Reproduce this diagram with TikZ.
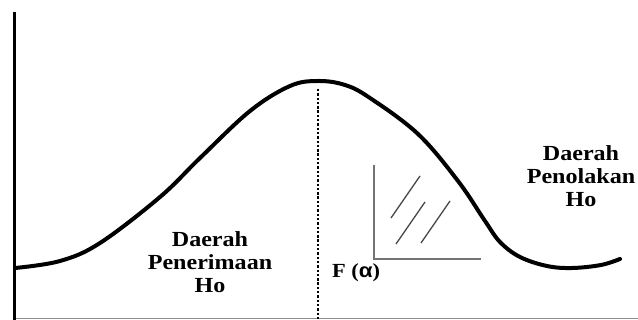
\documentclass[tikz,border=0pt]{standalone}
\usepackage{fontspec}
\newfontfamily\lblfont[FakeStretch=1.12]{Liberation Serif Bold}
\newfontfamily\symfont[FakeStretch=1.12]{Liberation Sans Bold}
\begin{document}
\begin{tikzpicture}[x=1pt,y=-1pt,
  curve/.style={line width=4pt,line cap=round,line join=round},
  axisline/.style={line width=3.5pt},
  guide/.style={line width=2.6pt,dash pattern=on 2.4pt off 1.9pt},
  bracket/.style={draw=black!55,line width=1.4pt},
  hatch/.style={draw=black!72,line width=1.3pt},
  region/.style={align=center,inner sep=0pt,font=\lblfont\fontsize{21.5}{23}\selectfont},
  flabel/.style={inner sep=0pt,font=\lblfont\fontsize{20}{22}\selectfont}]
\useasboundingbox (0,0) rectangle (638,320);
% coordinates
\coordinate (axtop) at (14.5,12);
\coordinate (axbot) at (14.5,320);
\coordinate (peak) at (318,81);
\coordinate (peakbot) at (318,320);
\coordinate (guidetop) at (318,89);
\coordinate (baseL) at (14,318.8);
\coordinate (baseR) at (638,318.8);
% axis and base
\draw[black!45,line width=1pt] (baseL) -- (baseR);
\draw[axisline] (axtop) -- (axbot);
% curve
\draw[curve] plot[smooth,tension=0.6] coordinates {
 (15,268) (60,261) (100,243) (160,197) (200,158) (250,111) (290,86) (318,81)
 (345,85) (370,98) (418,134) (458,181) (485,221) (500,242) (520,257) (547,266)
 (572,268) (601,265) (620,259)};
% dotted guide
\draw[guide] (guidetop) -- (peakbot);
% bracket
\coordinate (brtop) at (374,165);
\coordinate (brcorner) at (374,259);
\coordinate (brright) at (481,259);
\draw[bracket] (brtop) -- (brcorner) -- (brright);
\coordinate (h1a) at (391,218); \coordinate (h1b) at (420,176);
\coordinate (h2a) at (396,244); \coordinate (h2b) at (425,202);
\coordinate (h3a) at (421,243); \coordinate (h3b) at (450,201);
\draw[hatch] (h1a) -- (h1b);
\draw[hatch] (h2a) -- (h2b);
\draw[hatch] (h3a) -- (h3b);
% labels
\node[region] (accept) at (210,262.5) {Daerah\\Penerimaan\\Ho};
\node[region] (reject) at (581,176.5) {Daerah\\Penolakan\\Ho};
\node[flabel,anchor=base west] (falpha) at (332,278) {F ({\symfont α})};
\end{tikzpicture}
\end{document}
